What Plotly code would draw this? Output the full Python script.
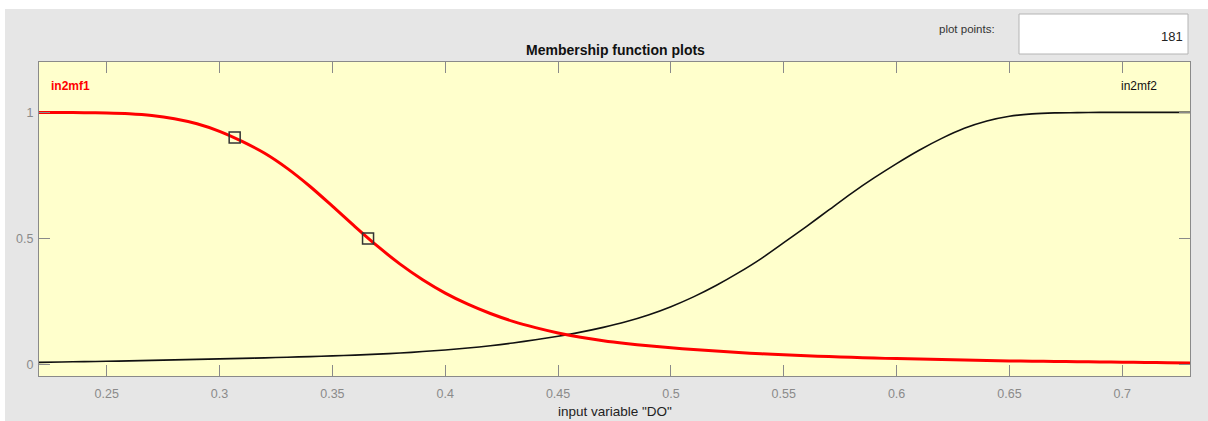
import plotly.graph_objects as go

# ---- data ----
mf_x = [0.22, 0.23, 0.24, 0.25, 0.26, 0.27, 0.28, 0.29, 0.30, 0.31, 0.32, 0.33, 0.34, 0.35,
        0.36, 0.37, 0.38, 0.39, 0.40, 0.41, 0.42, 0.43, 0.44, 0.45, 0.46, 0.47, 0.48, 0.49,
        0.50, 0.51, 0.52, 0.53, 0.54, 0.55, 0.56, 0.57, 0.58, 0.59, 0.60, 0.61, 0.62, 0.63,
        0.64, 0.65, 0.66, 0.67, 0.68, 0.69, 0.70, 0.71, 0.72, 0.73]
mf1_y = [1.0, 1.0, 0.999, 0.998, 0.995, 0.988, 0.975, 0.955, 0.925, 0.885, 0.838, 0.778, 0.707, 0.628,
         0.547, 0.469, 0.398, 0.336, 0.283, 0.239, 0.202, 0.171, 0.146, 0.125, 0.108, 0.094, 0.083, 0.074,
         0.066, 0.059, 0.053, 0.047, 0.042, 0.038, 0.034, 0.031, 0.028, 0.025, 0.023, 0.021, 0.019, 0.017,
         0.0155, 0.014, 0.013, 0.012, 0.011, 0.010, 0.009, 0.008, 0.007, 0.006]
mf2_y = [0.008, 0.0095, 0.011, 0.0125, 0.014, 0.016, 0.018, 0.020, 0.022, 0.024, 0.026, 0.0285, 0.031, 0.034,
         0.037, 0.041, 0.045, 0.051, 0.057, 0.065, 0.074, 0.085, 0.098, 0.112, 0.128, 0.147, 0.169, 0.196,
         0.229, 0.268, 0.313, 0.364, 0.420, 0.483, 0.547, 0.613, 0.679, 0.740, 0.797, 0.850, 0.897, 0.937,
         0.966, 0.985, 0.994, 0.998, 0.999, 1.0, 1.0, 1.0, 1.0, 1.0]

handle_x = [0.3067, 0.3658]
handle_y = [0.90, 0.50]

x_ticks = [0.25, 0.3, 0.35, 0.4, 0.45, 0.5, 0.55, 0.6, 0.65, 0.7]
x_tick_text = ["0.25", "0.3", "0.35", "0.4", "0.45", "0.5", "0.55", "0.6", "0.65", "0.7"]
y_ticks = [0, 0.5, 1]
y_tick_text = ["0", "0.5", "1"]

mf_names = ["in2mf1", "in2mf2"]
plot_points = "181"

W, H = 1208, 421
L, R, T, B = 39, 18, 62, 45
FONT = "Liberation Sans, Arial, sans-serif"
GRAY_AX = "#8a8a8a"

fig = go.Figure()
fig.add_trace(go.Scatter(x=mf_x, y=mf2_y, mode="lines", line=dict(color="#111111", width=1.6, shape="spline", smoothing=0.8),
                         hoverinfo="skip", showlegend=False))
fig.add_trace(go.Scatter(x=mf_x, y=mf1_y, mode="lines", line=dict(color="#ff0000", width=3, shape="spline", smoothing=0.8),
                         hoverinfo="skip", showlegend=False))
fig.add_trace(go.Scatter(x=handle_x, y=handle_y, mode="markers",
                         marker=dict(symbol="square-open", size=11, color="#333333", line=dict(width=1.5)),
                         hoverinfo="skip", showlegend=False))

pw = W - L - R
ph = H - T - B
def px2paper_x(px):
    return (px - L) / pw
def py2paper_y(py):
    return (H - B - py) / ph

shapes = [
    dict(type="rect", xref="paper", yref="paper", x0=px2paper_x(0), x1=px2paper_x(W),
         y0=py2paper_y(9), y1=py2paper_y(0), fillcolor="white", line=dict(width=0), layer="below"),
    dict(type="rect", xref="paper", yref="paper", x0=px2paper_x(0), x1=px2paper_x(5),
         y0=py2paper_y(H), y1=py2paper_y(0), fillcolor="white", line=dict(width=0), layer="below"),
    dict(type="rect", xref="paper", yref="paper", x0=px2paper_x(1019), x1=px2paper_x(1188),
         y0=py2paper_y(54), y1=py2paper_y(14), fillcolor="white", line=dict(width=1, color="#b4b4b4")),
]

annotations = [
    dict(text="<b>Membership function plots</b>", xref="paper", yref="paper",
         x=px2paper_x(615), y=py2paper_y(50), xanchor="center", yanchor="middle", showarrow=False,
         font=dict(family=FONT, size=14, color="#111111")),
    dict(text='input variable "DO"', xref="paper", yref="paper",
         x=px2paper_x(615), y=py2paper_y(411), xanchor="center", yanchor="middle", showarrow=False,
         font=dict(family=FONT, size=13.5, color="#222222")),
    dict(text="plot points:", xref="paper", yref="paper",
         x=px2paper_x(997), y=py2paper_y(29), xanchor="right", yanchor="middle", showarrow=False,
         font=dict(family=FONT, size=11.5, color="#333333")),
    dict(text=plot_points, xref="paper", yref="paper",
         x=px2paper_x(1185), y=py2paper_y(36), xanchor="right", yanchor="middle", showarrow=False,
         font=dict(family=FONT, size=13, color="#222222")),
    dict(text="<b>" + mf_names[0] + "</b>", xref="paper", yref="paper",
         x=px2paper_x(49), y=py2paper_y(86), xanchor="left", yanchor="middle", showarrow=False,
         font=dict(family=FONT, size=12, color="#ff0000")),
    dict(text=mf_names[1], xref="paper", yref="paper",
         x=px2paper_x(1119), y=py2paper_y(86), xanchor="left", yanchor="middle", showarrow=False,
         font=dict(family=FONT, size=12, color="#111111")),
]

fig.update_layout(
    width=W, height=H,
    margin=dict(l=L, r=R, t=T, b=B, pad=0),
    paper_bgcolor="#e6e6e6",
    plot_bgcolor="#ffffcc",
    shapes=shapes,
    annotations=annotations,
    xaxis=dict(range=[0.22, 0.73], tickvals=x_ticks, ticktext=x_tick_text, ticks="inside", ticklen=11,
               tickcolor=GRAY_AX, tickwidth=1, showline=True, linecolor=GRAY_AX, linewidth=1, mirror="ticks",
               showgrid=False, zeroline=False, tickfont=dict(family=FONT, size=12.5, color="#8a8a8a"),
               ticklabelstandoff=6, fixedrange=True),
    yaxis=dict(range=[-0.046, 1.2], tickvals=y_ticks, ticktext=y_tick_text, ticks="inside", ticklen=11,
               tickcolor=GRAY_AX, tickwidth=1, showline=True, linecolor=GRAY_AX, linewidth=1, mirror="ticks",
               showgrid=False, zeroline=False, tickfont=dict(family=FONT, size=12.5, color="#8a8a8a"),
               ticklabelstandoff=2, fixedrange=True),
)

fig.write_html("out.html")
